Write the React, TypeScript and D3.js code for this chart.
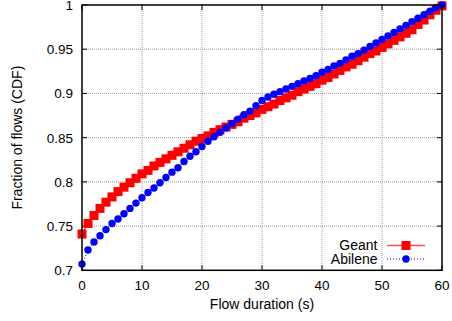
import React from "react";
import * as d3 from "d3";

const durations: number[] = d3.range(0, 61);
const geant: number[] = [
  0.741, 0.753, 0.762, 0.770, 0.777, 0.783, 0.789, 0.794, 0.799, 0.804,
  0.809, 0.813, 0.818, 0.822, 0.826, 0.830, 0.834, 0.838, 0.842, 0.846,
  0.849, 0.852, 0.856, 0.859, 0.862, 0.865, 0.868, 0.872, 0.875, 0.878,
  0.882, 0.885, 0.888, 0.892, 0.895, 0.898, 0.902, 0.905, 0.908, 0.911,
  0.915, 0.918, 0.922, 0.926, 0.930, 0.933, 0.937, 0.941, 0.945, 0.948,
  0.952, 0.956, 0.960, 0.964, 0.968, 0.972, 0.978, 0.983, 0.989, 0.994,
  0.999,
];
const abilene: number[] = [
  0.707, 0.723, 0.732, 0.739, 0.746, 0.753, 0.758, 0.764, 0.770, 0.776,
  0.782, 0.788, 0.793, 0.799, 0.805, 0.811, 0.816, 0.823, 0.829, 0.834,
  0.840, 0.846, 0.851, 0.856, 0.861, 0.866, 0.871, 0.876, 0.880, 0.886,
  0.892, 0.896, 0.899, 0.902, 0.905, 0.908, 0.911, 0.914, 0.917, 0.920,
  0.924, 0.927, 0.931, 0.934, 0.938, 0.942, 0.945, 0.949, 0.953, 0.957,
  0.961, 0.965, 0.969, 0.973, 0.977, 0.981, 0.985, 0.989, 0.993, 0.997,
  1.0,
];
const xTicks: number[] = [0, 10, 20, 30, 40, 50, 60];
const yTicks: number[] = [0.7, 0.75, 0.8, 0.85, 0.9, 0.95, 1];
const yTickLabels: string[] = ["0.7", "0.75", "0.8", "0.85", "0.9", "0.95", "1"];
const seriesNames: string[] = ["Geant", "Abilene"];

const W = 452;
const H = 321;
const L = 82;
const R = 442;
const T = 5;
const B = 270.3;
const FONT = "'Liberation Sans', Arial, Helvetica, sans-serif";

export default function App() {
  const x = d3.scaleLinear().domain([0, 60]).range([L, R]);
  const y = d3.scaleLinear().domain([0.7, 1]).range([B, T]);
  const line = d3
    .line<[number, number]>()
    .x((d) => x(d[0]))
    .y((d) => y(d[1]));
  const gData: [number, number][] = durations.map((t, i) => [t, geant[i]]);
  const aData: [number, number][] = durations.map((t, i) => [t, abilene[i]]);
  const sq = 9;
  const cr = 3.7;
  const tick = 5;

  return (
    <svg
      width={W}
      height={H}
      style={{ position: "absolute", left: 0, top: 0, background: "#fff" }}
      fontFamily={FONT}
    >
      <rect x={0} y={0} width={W} height={H} fill="#fff" />
      {/* grid */}
      {xTicks.slice(1, -1).map((t) => (
        <line
          key={"gx" + t}
          x1={x(t)}
          x2={x(t)}
          y1={T}
          y2={B}
          stroke="#9a9a9a"
          strokeWidth={1}
          strokeDasharray="1,1"
        />
      ))}
      {yTicks.slice(1, -1).map((t) => (
        <line
          key={"gy" + t}
          x1={L}
          x2={R}
          y1={y(t)}
          y2={y(t)}
          stroke="#9a9a9a"
          strokeWidth={1}
          strokeDasharray="1,1"
        />
      ))}
      {/* ticks */}
      {xTicks.map((t) => (
        <g key={"tx" + t}>
          <line x1={x(t)} x2={x(t)} y1={B} y2={B - tick} stroke="#000" />
          <line x1={x(t)} x2={x(t)} y1={T} y2={T + tick} stroke="#000" />
          <text x={x(t)} y={289.5} fontSize={13.5} textAnchor="middle" fill="#000">
            {t}
          </text>
        </g>
      ))}
      {yTicks.map((t, i) => (
        <g key={"ty" + t}>
          <line x1={L} x2={L + tick} y1={y(t)} y2={y(t)} stroke="#000" />
          <line x1={R} x2={R - tick} y1={y(t)} y2={y(t)} stroke="#000" />
          <text x={73} y={y(t) + 5} fontSize={13.5} textAnchor="end" fill="#000">
            {yTickLabels[i]}
          </text>
        </g>
      ))}
      {/* series */}
      <path d={line(gData) ?? ""} fill="none" stroke="#ff0000" strokeWidth={1} />
      {gData.map((d, i) => (
        <rect
          key={"g" + i}
          x={x(d[0]) - sq / 2}
          y={y(d[1]) - sq / 2}
          width={sq}
          height={sq}
          fill="#ff0000"
        />
      ))}
      <path
        d={line(aData) ?? ""}
        fill="none"
        stroke="#0000ff"
        strokeWidth={1}
        strokeDasharray="1,2"
      />
      {aData.map((d, i) => (
        <circle key={"a" + i} cx={x(d[0])} cy={y(d[1])} r={cr} fill="#0000ff" />
      ))}
      {/* border */}
      <rect
        x={L}
        y={T}
        width={R - L}
        height={B - T}
        fill="none"
        stroke="#000"
        strokeWidth={1.5}
      />
      {/* legend */}
      <text x={377.5} y={250} fontSize={14} textAnchor="end" fill="#000">
        {seriesNames[0]}
      </text>
      <line x1={387} x2={425} y1={245.5} y2={245.5} stroke="#ff5050" strokeWidth={1.5} />
      <rect x={406 - sq / 2} y={245.5 - sq / 2} width={sq} height={sq} fill="#ff0000" />
      <text x={377.5} y={264} fontSize={14} textAnchor="end" fill="#000">
        {seriesNames[1]}
      </text>
      <line
        x1={387}
        x2={425}
        y1={259}
        y2={259}
        stroke="#0000ff"
        strokeWidth={1}
        strokeDasharray="1,2"
      />
      <circle cx={406} cy={259} r={cr} fill="#0000ff" />
      {/* axis labels */}
      <text x={(L + R) / 2} y={309} fontSize={14} textAnchor="middle" fill="#000">
        Flow duration (s)
      </text>
      <text
        transform={`translate(22, ${(T + B) / 2}) rotate(-90)`}
        fontSize={14}
        textAnchor="middle"
        fill="#000"
      >
        Fraction of flows (CDF)
      </text>
    </svg>
  );
}
